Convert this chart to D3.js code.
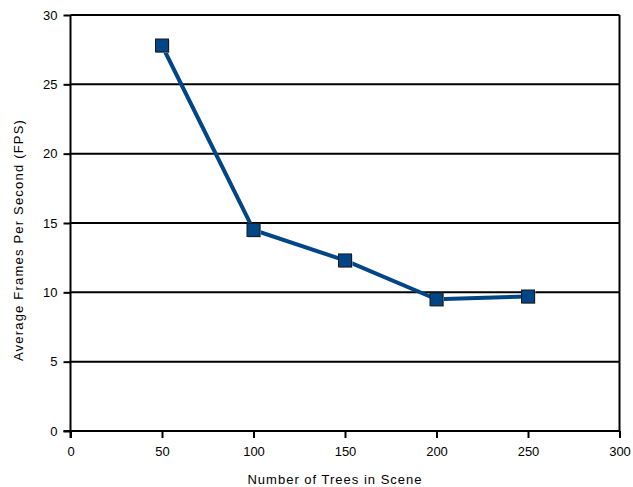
<!DOCTYPE html>
<html>
<head>
<meta charset="utf-8">
<script src="https://cdn.jsdelivr.net/npm/d3@7"></script>
<style>
  body { margin: 0; background: #fff; }
  svg text { font-family: "Liberation Sans", Arial, sans-serif; fill: #000; }
</style>
</head>
<body>
<svg id="chart" width="633" height="487"></svg>
<script>
// data
const trees = [50, 100, 150, 200, 250];
const fps = [27.8, 14.5, 12.3, 9.5, 9.7];
const xTicks = [0, 50, 100, 150, 200, 250, 300];
const yTicks = [0, 5, 10, 15, 20, 25, 30];

const svg = d3.select("#chart");
const plotLeft = 70.5, plotRight = 619.5, plotTop = 15, plotBottom = 431;

const x = d3.scaleLinear().domain([0, 300]).range([plotLeft, plotRight]);
const y = d3.scaleLinear().domain([0, 30]).range([plotBottom, plotTop]);

// gridlines
svg.append("g")
    .selectAll("line")
    .data(yTicks)
    .enter()
    .append("line")
    .attr("x1", plotLeft)
    .attr("x2", plotRight)
    .attr("y1", d => y(d))
    .attr("y2", d => y(d))
    .attr("stroke", "#000")
    .attr("stroke-width", 2);

// right border
svg.append("line")
    .attr("x1", plotRight).attr("x2", plotRight)
    .attr("y1", plotTop).attr("y2", plotBottom)
    .attr("stroke", "#000").attr("stroke-width", 2);

// axes
const yAxis = svg.append("g")
    .attr("transform", `translate(${plotLeft},0)`)
    .call(d3.axisLeft(y).tickValues(yTicks).tickSize(7).tickPadding(6).tickFormat(d3.format("d")));
const xAxis = svg.append("g")
    .attr("transform", `translate(0,${plotBottom})`)
    .call(d3.axisBottom(x).tickValues(xTicks).tickSize(7).tickPadding(9).tickFormat(d3.format("d")));

[yAxis, xAxis].forEach(a => {
    a.select(".domain").attr("stroke", "#000").attr("stroke-width", 2);
    a.selectAll(".tick line").attr("stroke", "#000").attr("stroke-width", 2);
    a.selectAll(".tick text").attr("font-size", "13px").attr("font-family", "Liberation Sans, Arial, sans-serif");
});
yAxis.select(".domain").attr("d", `M0,${plotBottom + 7}V${plotTop}`);
xAxis.select(".domain").attr("d", `M${plotLeft - 7},0H${plotRight}`);

// line
const pts = trees.map((t, i) => [t, fps[i]]);
svg.append("path")
    .datum(pts)
    .attr("fill", "none")
    .attr("stroke", "#004586")
    .attr("stroke-width", 4)
    .attr("stroke-linejoin", "round")
    .attr("d", d3.line().x(d => x(d[0])).y(d => y(d[1])));

// markers (with a faint shadow)
const ms = 13;
svg.append("g")
    .selectAll("rect")
    .data(pts)
    .enter()
    .append("rect")
    .attr("x", d => x(d[0]) - ms / 2 + 1)
    .attr("y", d => y(d[1]) - ms / 2 + 1)
    .attr("width", ms)
    .attr("height", ms)
    .attr("fill", "#b8b8b8");
svg.append("g")
    .selectAll("rect")
    .data(pts)
    .enter()
    .append("rect")
    .attr("x", d => x(d[0]) - ms / 2)
    .attr("y", d => y(d[1]) - ms / 2)
    .attr("width", ms)
    .attr("height", ms)
    .attr("fill", "#004586")
    .attr("stroke", "#1a1a1a")
    .attr("stroke-width", 1);

// axis titles
svg.append("text")
    .attr("x", 335)
    .attr("y", 484)
    .attr("text-anchor", "middle")
    .attr("font-size", "13px")
    .attr("letter-spacing", "1px")
    .text("Number of Trees in Scene");
svg.append("text")
    .attr("transform", `translate(23,240) rotate(-90)`)
    .attr("text-anchor", "middle")
    .attr("font-size", "13px")
    .attr("letter-spacing", "1.2px")
    .text("Average Frames Per Second (FPS)");
</script>
</body>
</html>
